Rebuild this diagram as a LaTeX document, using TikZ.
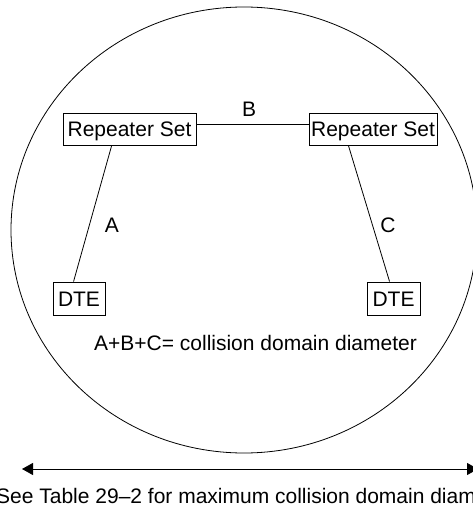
\documentclass[tikz,border=0pt]{standalone}
\usepackage{fontspec}
\setmainfont{Liberation Sans}
\usetikzlibrary{arrows.meta,calc}
\begin{document}
\begin{tikzpicture}[x=1pt,y=-1pt,
  every node/.style={font=\fontsize{21}{25}\selectfont},
  box/.style={draw, line width=0.9pt, inner sep=0pt, text height=15pt, text depth=-4.5pt},
  conn/.style={line width=0.8pt},
  lbl/.style={anchor=base, inner sep=0pt}]
\useasboundingbox (0,0) rectangle (472,510);
\draw[conn] (244,230) ellipse [x radius=233, y radius=223];
\node[box, minimum width=133pt, minimum height=32pt] (rs1) at (129.5,129.5) {Repeater Set};
\node[box, minimum width=128pt, minimum height=32pt] (rs2) at (373,129.5) {Repeater Set};
\node[box, minimum width=52pt, minimum height=33pt] (dte1) at (79,298.5) {DTE};
\node[box, minimum width=53pt, minimum height=33pt] (dte2) at (393.5,298.5) {DTE};
\draw[conn] ($(rs1.east)+(0,-5.5)$) -- ($(rs2.west)+(0,-5.5)$);
\draw[conn] ($(rs1.south west)+(49,0)$) -- ($(dte1.north west)+(21,0)$);
\draw[conn] ($(rs2.south west)+(40,0)$) -- ($(dte2.north west)+(23,0)$);
\node[lbl] (lb) at (249,117) {B};
\node[lbl] (la) at (112,233) {A};
\node[lbl] (lc) at (388,233) {C};
\node[lbl] (formula) at (255.5,350) {A+B+C= collision domain diameter};
\coordinate (al) at (22,469);
\coordinate (ar) at (478,469);
\draw[conn, {Triangle[length=11pt,width=12pt]}-{Triangle[length=11pt,width=12pt]}] (al) -- (ar);
\node[lbl, anchor=base west] (note) at (-4,503) {See Table 29–2 for maximum collision domain diameter};
\end{tikzpicture}
\end{document}
